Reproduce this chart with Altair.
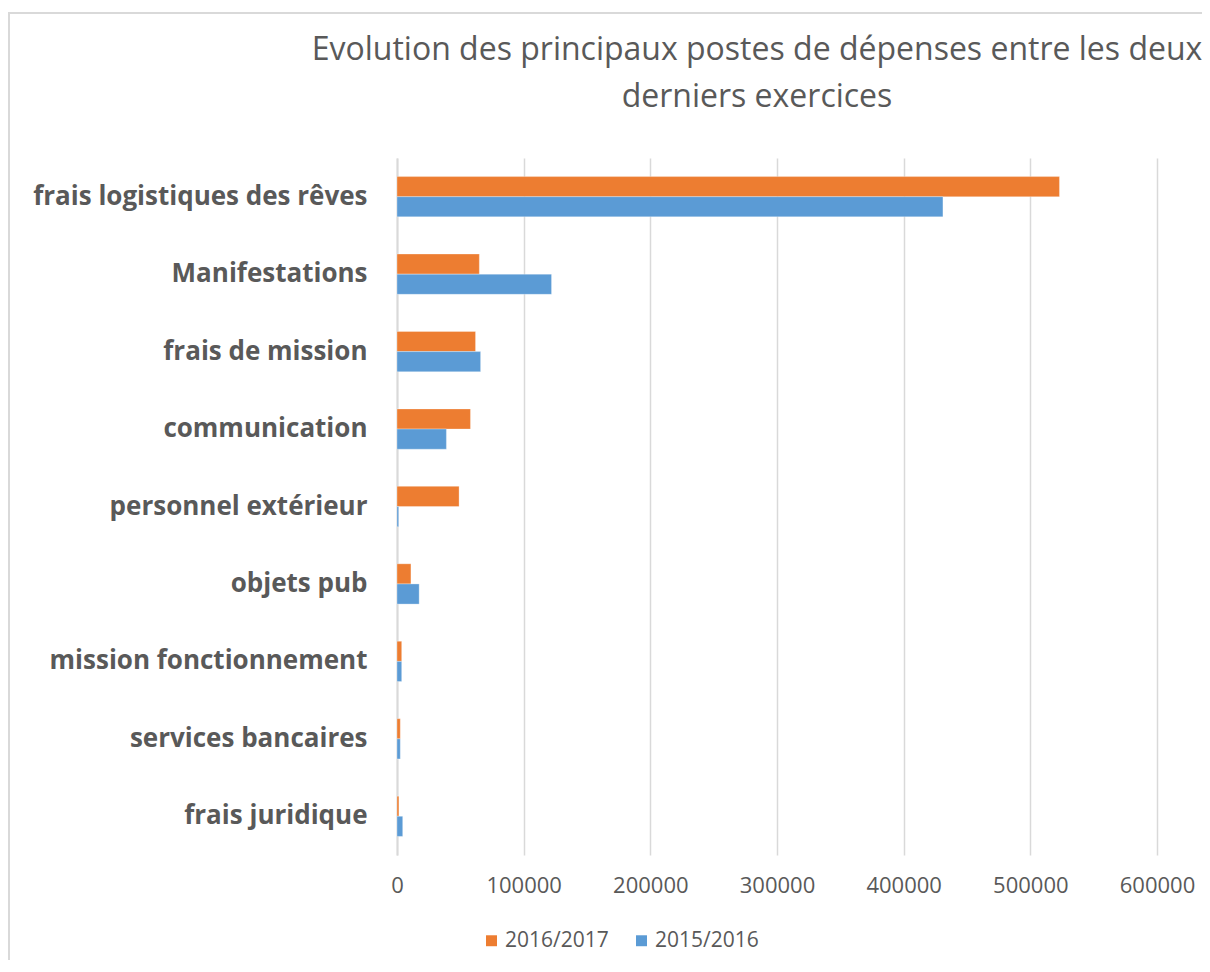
import altair as alt
import pandas as pd

categories = [
    "frais logistiques des rêves",
    "Manifestations",
    "frais de mission",
    "communication",
    "personnel extérieur",
    "objets pub",
    "mission fonctionnement",
    "services bancaires",
    "frais juridique",
]
series_names = ["2016/2017", "2015/2016"]
values_2016_2017 = [523000, 65000, 62000, 58000, 49000, 11000, 3700, 2600, 1500]
values_2015_2016 = [431000, 122000, 66000, 39000, 1300, 17500, 3700, 2600, 4500]
x_ticks = [0, 100000, 200000, 300000, 400000, 500000, 600000]
colors = ["#ED7D31", "#5B9BD5"]
title_text = "Evolution des principaux postes de dépenses entre les deux\nderniers exercices"

rows = []
for c, a, b in zip(categories, values_2016_2017, values_2015_2016):
    rows.append({"poste": c, "exercice": series_names[0], "montant": a})
    rows.append({"poste": c, "exercice": series_names[1], "montant": b})
df = pd.DataFrame(rows)

FONT = "Open Sans"
GREY = "#595959"

bars = alt.Chart(df).mark_bar(stroke="white", strokeWidth=0.5, strokeOpacity=0.6).encode(
    x=alt.X(
        "montant:Q",
        scale=alt.Scale(domain=[0, 600000], nice=False),
        axis=alt.Axis(
            values=x_ticks,
            format="d",
            title=None,
            domain=False,
            ticks=False,
            grid=True,
            gridColor="#d9d9d9",
            gridWidth=1.5,
            labelFont=FONT,
            labelFontSize=22,
            labelColor=GREY,
            labelPadding=20,
            labelFlush=False,
            labelOverlap=False,
        ),
    ),
    y=alt.Y(
        "poste:N",
        sort=categories,
        scale=alt.Scale(paddingInner=0.48, paddingOuter=0.24),
        axis=alt.Axis(
            title=None,
            ticks=False,
            domain=True,
            domainColor="#d9d9d9",
            domainWidth=2,
            labelFont=FONT,
            labelFontSize=26,
            labelFontWeight="bold",
            labelColor=GREY,
            labelPadding=30,
            labelLimit=0,
        ),
    ),
    yOffset=alt.YOffset("exercice:N", sort=series_names,
                        scale=alt.Scale(paddingInner=0, paddingOuter=0)),
    color=alt.Color(
        "exercice:N",
        sort=series_names,
        scale=alt.Scale(domain=series_names, range=colors),
        legend=alt.Legend(
            title=None,
            orient="none",
            direction="horizontal",
            legendX=84,
            legendY=772,
            symbolType="square",
            symbolSize=120,
            symbolStrokeWidth=0,
            labelFont=FONT,
            labelFontSize=21,
            labelColor=GREY,
            columnPadding=22,
            labelOffset=3,
        ),
    ),
)

border = alt.Chart(pd.DataFrame({"k": [0]})).mark_rect(
    fill=None, stroke="#d9d9d9", strokeWidth=2
).encode(
    x=alt.value(-388), x2=alt.value(1200), y=alt.value(-145), y2=alt.value(1200)
)

title = alt.Chart(pd.DataFrame({"t": [title_text]})).mark_text(
    lineBreak="\n",
    font=FONT,
    fontSize=32,
    color=GREY,
    align="center",
    baseline="middle",
    lineHeight=47,
).encode(
    text="t:N",
    x=alt.value(360),
    y=alt.value(-108),
)

chart = alt.layer(border, bars, title).properties(
    width=760,
    height=697,
    padding={"left": 389, "top": 150, "right": 45, "bottom": 105},
    autosize=alt.AutoSizeParams(type="none"),
).configure_view(stroke=None)

chart.save("out.html", embed_options={"renderer": "svg", "actions": False})
